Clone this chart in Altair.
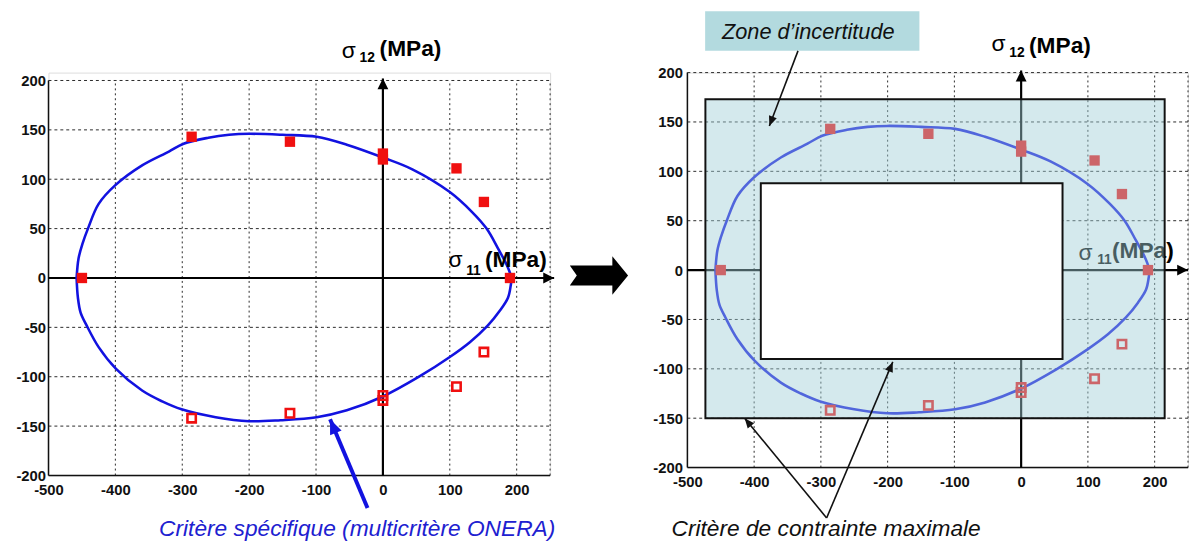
import altair as alt
import pandas as pd

FONT = "Liberation Sans"

# ---------------- data (sigma11, sigma12 in MPa) ----------------
CURVE_S11 = [-458, -455, -449, -441, -425, -400, -360, -320, -298, -261, -230, -200, -150,
             -99, -54, 0, 44, 100, 133, 155, 172, 186, 192, 191, 187, 175, 157, 130, 100,
             54, 0, -54, -99, -153, -200, -250, -301, -330, -360, -399, -425, -443, -452,
             -456, -458]
CURVE_S12 = [0, 20, 35, 50, 75, 94, 114, 128, 136, 142, 145, 146, 145,
             143, 135, 122, 110, 87, 67, 50, 30, 12, 0, -8, -20, -33, -48, -65, -80,
             -100, -120, -134, -141, -144, -145, -141, -133, -125, -114, -92, -70, -48, -35,
             -20, 0]

FILLED_S11 = [-450, -286, -139, 0, 0, 110, 151, 190]
FILLED_S12 = [0, 143, 138, 126, 120, 111, 77, 0]
OPEN_S11 = [-286, -139, 0, 0, 110, 151]
OPEN_S12 = [-142, -137, -119, -124, -110, -75]

X_TICKS = [-500, -400, -300, -200, -100, 0, 100, 200]
Y_TICKS = [-200, -150, -100, -50, 0, 50, 100, 150, 200]
GRID_X = [-400, -300, -200, -100, 100, 200, 250]
GRID_Y = [-150, -100, -50, 50, 100, 150, 200]

# maximum stress criterion: uncertainty zone (outer) and safe zone (inner)
ZONE_OUTER_X = [-473, 215]
ZONE_OUTER_Y = [-150, 173]
ZONE_INNER_X = [-390, 62]
ZONE_INNER_Y = [-90, 88]

# annotation anchors (data space)
LEFT_S12_TXT = {"x": [-61.5, -35, -5], "y": [230, 223, 232], "t": ["σ", "12", "(MPa)"]}
LEFT_S11_TXT = {"x": [98, 124.5, 152.6], "y": [18, 7, 18], "t": ["σ", "11", "(MPa)"]}
RIGHT_S12_TXT = {"x": [-44.4, -17.8, 11.8], "y": [229, 220, 227], "t": ["σ", "12", "(MPa)"]}
RIGHT_S11_TXT = {"x": [85.8, 113.9, 136.1], "y": [17, 10, 19], "t": ["σ", "11", "(MPa)"]}

LEFT_NOTE = "Critère spécifique (multicritère ONERA)"
RIGHT_NOTE = "Critère de contrainte maximale"
ZONE_NOTE = "Zone d’incertitude"

ARROW = "M0,0 L-0.5,1 L0.5,1 Z"
ARROW_N = "M0,0 L-0.42,1 L0.42,1 Z"
BIG_ARROW = "M-1,-0.34 L0.46,-0.34 L0.46,-0.66 L1,0 L0.46,0.66 L0.46,0.34 L-1,0.34 L-0.76,0 Z"

RED = "#f01010"
BLUE = "#1212e0"
GRID = "#2a2a2a"
LABEL_EXPR = "datum.value < 0 ? '-' + abs(datum.value) : '' + datum.value"


def panel(ydom, width, height, h_tip, v_tip, s12_txt, s11_txt, right=False):
    xs = alt.Scale(domain=[-500, 250], nice=False, zero=False)
    ys = alt.Scale(domain=ydom, nice=False, zero=False)
    xaxis = alt.Axis(values=X_TICKS, title=None, domain=False, ticks=False, grid=False,
                     labelFont=FONT, labelFontSize=15, labelFontWeight="bold",
                     labelColor="#111", labelPadding=7, labelExpr=LABEL_EXPR,
                     labelFlush=False, labelOverlap=False)
    yaxis = alt.Axis(values=Y_TICKS, title=None, domain=False, ticks=False, grid=False,
                     labelFont=FONT, labelFontSize=15, labelFontWeight="bold",
                     labelColor="#111", labelExpr=LABEL_EXPR,
                     labelPadding=5 if right else 3, labelOverlap=False)

    def X(f="x"):
        return alt.X(f"{f}:Q", scale=xs, axis=xaxis)

    def Y(f="y"):
        return alt.Y(f"{f}:Q", scale=ys, axis=yaxis)

    layers = []
    gv = pd.DataFrame({"x": GRID_X, "y": [-200] * len(GRID_X), "y2": [200] * len(GRID_X)})
    layers.append(alt.Chart(gv).mark_rule(color=GRID, strokeDash=[2, 3], strokeWidth=1)
                  .encode(x=X(), y=Y(), y2="y2:Q"))
    gh = pd.DataFrame({"y": GRID_Y, "x": [-500] * len(GRID_Y), "x2": [250] * len(GRID_Y)})
    layers.append(alt.Chart(gh).mark_rule(color=GRID, strokeDash=[3, 3], strokeWidth=1)
                  .encode(x=X(), x2="x2:Q", y=Y()))
    # frame (left & bottom)
    fr = pd.DataFrame({"x": [-500, -500], "y": [-200, -200], "x2": [-500, 250], "y2": [200, -200]})
    layers.append(alt.Chart(fr).mark_rule(color="#111", strokeWidth=1.5)
                  .encode(x=X(), y=Y(), x2="x2:Q", y2="y2:Q"))
    # sigma axes with arrows
    ax = pd.DataFrame({"x": [0, -500], "y": [-200, 0], "x2": [0, h_tip], "y2": [v_tip, 0]})
    layers.append(alt.Chart(ax).mark_rule(color="black", strokeWidth=2.2)
                  .encode(x=X(), y=Y(), x2="x2:Q", y2="y2:Q"))
    heads = pd.DataFrame({"x": [0, h_tip], "y": [v_tip, 0], "a": [0, 90]})
    layers.append(alt.Chart(heads).mark_point(shape=ARROW, filled=True, size=484, color="black",
                                              opacity=1, strokeWidth=0)
                  .encode(x=X(), y=Y(), angle=alt.Angle("a:Q", scale=None)))
    # criterion curve
    cv = pd.DataFrame({"x": CURVE_S11, "y": CURVE_S12, "o": list(range(len(CURVE_S11)))})
    layers.append(alt.Chart(cv).mark_line(color=BLUE, strokeWidth=2.6, interpolate="catmull-rom")
                  .encode(x=X(), y=Y(), order="o:Q"))
    # experimental points
    fp = pd.DataFrame({"x": FILLED_S11, "y": FILLED_S12})
    layers.append(alt.Chart(fp).mark_square(color=RED, size=110, opacity=1)
                  .encode(x=X(), y=Y()))
    op = pd.DataFrame({"x": OPEN_S11, "y": OPEN_S12})
    layers.append(alt.Chart(op).mark_square(color=RED, filled=False, size=72, strokeWidth=2.6,
                                            opacity=1)
                  .encode(x=X(), y=Y()))

    def sig_label(d):
        df = pd.DataFrame(d)
        out = []
        out.append(alt.Chart(df.iloc[[0]]).mark_text(align="left", baseline="middle", font=FONT,
                                                     fontSize=23, color="black")
                   .encode(x=X(), y=Y(), text="t:N"))
        out.append(alt.Chart(df.iloc[[1]]).mark_text(align="left", baseline="middle", font=FONT,
                                                     fontSize=14, fontWeight="bold", color="black")
                   .encode(x=X(), y=Y(), text="t:N"))
        out.append(alt.Chart(df.iloc[[2]]).mark_text(align="left", baseline="middle", font=FONT,
                                                     fontSize=23, fontWeight="bold", color="black")
                   .encode(x=X(), y=Y(), text="t:N"))
        return out

    layers += sig_label(s11_txt)

    if right:
        zo = pd.DataFrame({"x": [ZONE_OUTER_X[0]], "x2": [ZONE_OUTER_X[1]],
                           "y": [ZONE_OUTER_Y[0]], "y2": [ZONE_OUTER_Y[1]]})
        layers.append(alt.Chart(zo).mark_rect(fill="#9fcfd6", fillOpacity=0.45, stroke="#111",
                                              strokeWidth=2)
                      .encode(x=X(), x2="x2:Q", y=Y(), y2="y2:Q"))
        zi = pd.DataFrame({"x": [ZONE_INNER_X[0]], "x2": [ZONE_INNER_X[1]],
                           "y": [ZONE_INNER_Y[0]], "y2": [ZONE_INNER_Y[1]]})
        layers.append(alt.Chart(zi).mark_rect(fill="white", stroke="#111", strokeWidth=2)
                      .encode(x=X(), x2="x2:Q", y=Y(), y2="y2:Q"))

    layers += sig_label(s12_txt)

    if right:
        # "Zone d'incertitude" label box
        zb = pd.DataFrame({"x": [-473.4], "x2": [-152.4], "y": [222], "y2": [262]})
        layers.append(alt.Chart(zb).mark_rect(fill="#b3dadf")
                      .encode(x=X(), x2="x2:Q", y=Y(), y2="y2:Q"))
        zt = pd.DataFrame({"x": [-448.2], "y": [234], "t": [ZONE_NOTE]})
        layers.append(alt.Chart(zt).mark_text(align="left", baseline="alphabetic", font=FONT,
                                              fontSize=22, fontStyle="italic", color="#111")
                      .encode(x=X(), y=Y(), text="t:N"))
        arr = pd.DataFrame({"x": [-334.3, -291.4, -291.4], "y": [222, -251, -251],
                            "x2": [-377.2, -414.2, -192.3], "y2": [146, -150, -93],
                            "a": [200.9, 320.6, 23.0]})
        layers.append(alt.Chart(arr).mark_rule(color="#111", strokeWidth=1.6)
                      .encode(x=X(), y=Y(), x2="x2:Q", y2="y2:Q"))
        layers.append(alt.Chart(arr).mark_point(shape=ARROW_N, filled=True, size=400,
                                                color="#111", opacity=1, strokeWidth=0)
                      .encode(x=alt.X("x2:Q", scale=xs, axis=xaxis),
                              y=alt.Y("y2:Q", scale=ys, axis=yaxis),
                              angle=alt.Angle("a:Q", scale=None)))
        bt = pd.DataFrame({"x": [-523.7], "y": [-269], "t": [RIGHT_NOTE]})
        layers.append(alt.Chart(bt).mark_text(align="left", baseline="alphabetic", font=FONT,
                                              fontSize=23, fontStyle="italic", color="#111")
                      .encode(x=X(), y=Y(), text="t:N"))
    else:
        arr = pd.DataFrame({"x": [-23], "y": [-233], "x2": [-79], "y2": [-143], "a": [337.1]})
        layers.append(alt.Chart(arr).mark_rule(color=BLUE, strokeWidth=4)
                      .encode(x=X(), y=Y(), x2="x2:Q", y2="y2:Q"))
        layers.append(alt.Chart(arr).mark_point(shape=ARROW_N, filled=True, size=900,
                                                color=BLUE, opacity=1, strokeWidth=0)
                      .encode(x=alt.X("x2:Q", scale=xs, axis=xaxis),
                              y=alt.Y("y2:Q", scale=ys, axis=yaxis),
                              angle=alt.Angle("a:Q", scale=None)))
        bt = pd.DataFrame({"x": [-334.6], "y": [-261], "t": [LEFT_NOTE]})
        layers.append(alt.Chart(bt).mark_text(align="left", baseline="alphabetic", font=FONT,
                                              fontSize=23, fontStyle="italic", color="#2020d0")
                      .encode(x=X(), y=Y(), text="t:N"))
        big = pd.DataFrame({"x": [323], "y": [2.5]})
        layers.append(alt.Chart(big).mark_point(shape=BIG_ARROW, filled=True, size=3481,
                                                color="black", opacity=1, strokeWidth=0)
                      .encode(x=X(), y=Y()))

    return alt.layer(*layers).properties(width=width, height=height)


left = panel([-200, 208], 508, 408, 256, 202, LEFT_S12_TXT, LEFT_S11_TXT, right=False)
right = panel([-200, 200], 507, 400, 250, 202, RIGHT_S12_TXT, RIGHT_S11_TXT, right=True)

chart = alt.hconcat(left, right, spacing=139, bounds="flush").properties(
    padding={"left": 7, "top": -1, "right": 0, "bottom": 0}
).configure_view(stroke=None).configure(background="white")

chart.save("out.html", embed_options={"renderer": "svg", "actions": False})
